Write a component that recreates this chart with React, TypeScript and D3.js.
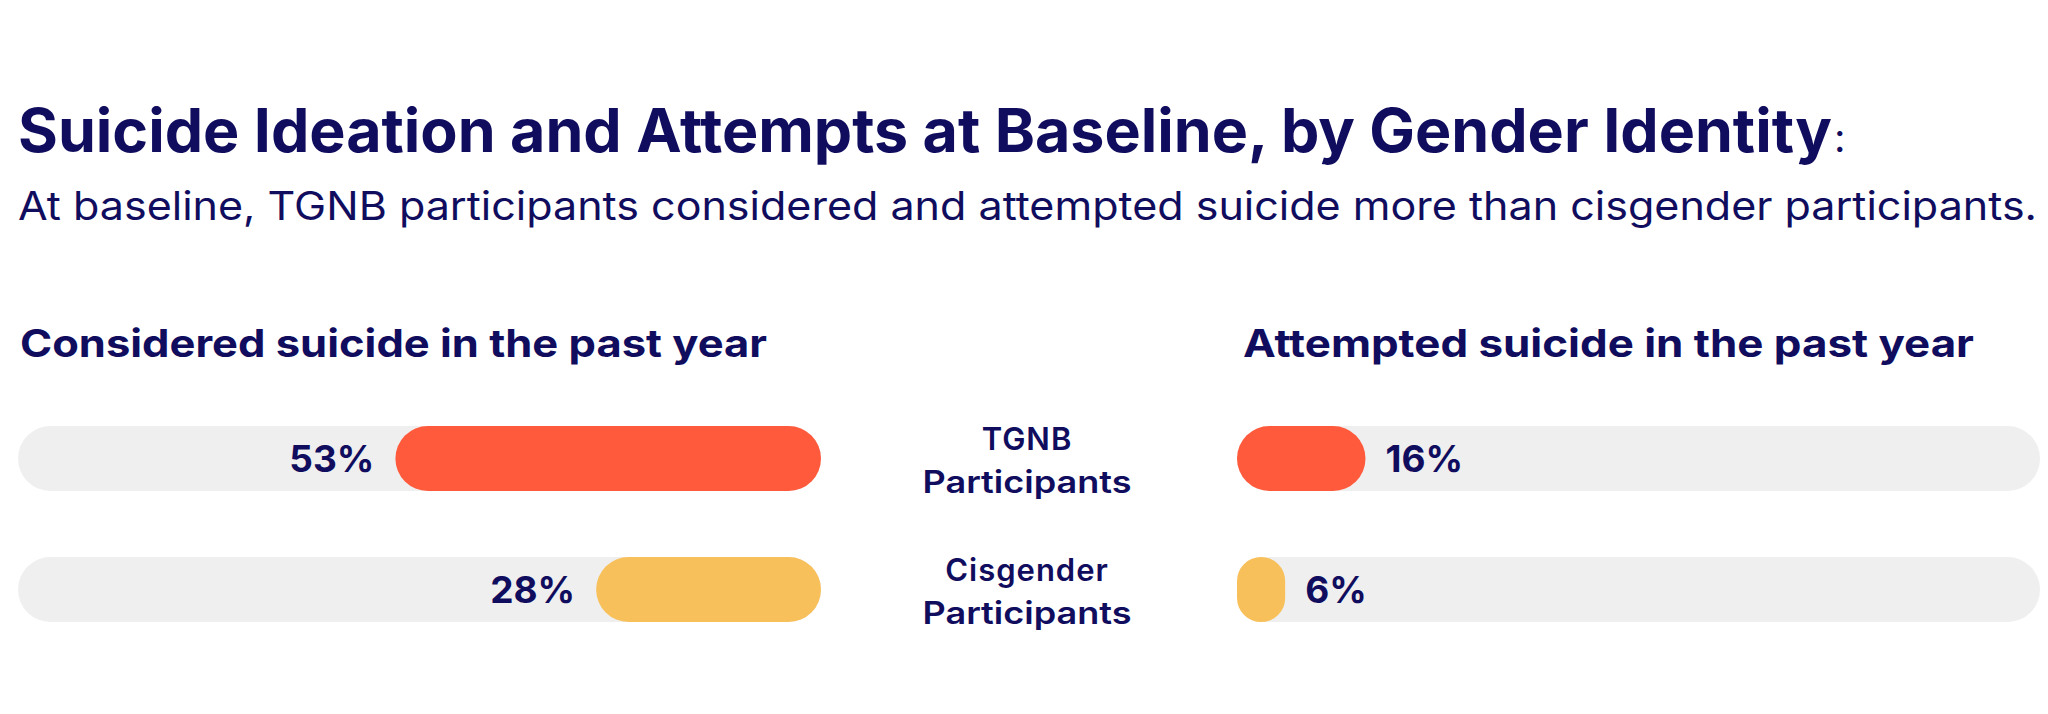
import * as d3 from 'd3';

const groups = ['TGNB', 'Cisgender'];
const considered = [53, 28];
const attempted = [16, 6];
const panelTitles = ['Considered suicide in the past year', 'Attempted suicide in the past year'];

const title = 'Suicide Ideation and Attempts at Baseline, by Gender Identity';
const subtitle = 'At baseline, TGNB participants considered and attempted suicide more than cisgender participants.';

const NAVY = '#110d5e';
const TRACK = '#efefef';
const barColors = ['#ff5a3c', '#f8c05a'];
const FONT = 'Inter, "Noto Sans", sans-serif';

const W = 2048;
const H = 714;

export default function App() {
  const trackW = 803;
  const leftX = 18;
  const rightX = 1237;

  // percentage -> bar length; the full track is 100%
  const x = d3.scaleLinear().domain([0, 100]).range([0, trackW]);

  // two rows, 65px tall, 131px apart
  const y = d3.scaleBand<string>()
    .domain(groups)
    .range([426, 622])
    .paddingInner(66 / 131)
    .paddingOuter(0);
  const band = y.bandwidth();

  const midX = 1027;

  return (
    <svg width={W} height={H} style={{ position: 'absolute', left: 0, top: 0, background: '#fff' }}
      fontFamily={FONT}>
      <text x={18} y={152} fontSize={60} fontWeight={700} fill={NAVY}
        textLength={1814} lengthAdjust="spacingAndGlyphs">{title}</text>
      <text x={1834} y={152} fontSize={40} fontWeight={400} fill={NAVY}>:</text>
      <text x={18} y={220} fontSize={39} fontWeight={400} fill={NAVY}
        textLength={2019} lengthAdjust="spacingAndGlyphs">{subtitle}</text>

      <text x={20} y={357} fontSize={38} fontWeight={700} fill={NAVY}
        textLength={747} lengthAdjust="spacingAndGlyphs">{panelTitles[0]}</text>
      <text x={1243} y={357} fontSize={38} fontWeight={700} fill={NAVY}
        textLength={731} lengthAdjust="spacingAndGlyphs">{panelTitles[1]}</text>

      {groups.map((g, i) => {
        const top = y(g)!;
        const cy = top + band / 2;
        const lw = x(considered[i]);
        const rw = x(attempted[i]);
        const r = band / 2;
        return (
          <g key={g}>
            {/* left panel: bars grow leftwards from the track's right end */}
            <rect x={leftX} y={top} width={trackW} height={band} rx={r} ry={r} fill={TRACK} />
            <rect x={leftX + trackW - lw} y={top} width={lw} height={band}
              rx={Math.min(r, lw / 2)} ry={Math.min(r, lw / 2)} fill={barColors[i]} />
            <text x={leftX + trackW - lw - 21} y={cy} dy="0.36em" textAnchor="end"
              fontSize={37} fontWeight={700} fill={NAVY}>{considered[i]}%</text>

            {/* right panel: bars grow rightwards */}
            <rect x={rightX} y={top} width={trackW} height={band} rx={r} ry={r} fill={TRACK} />
            <rect x={rightX} y={top} width={rw} height={band}
              rx={Math.min(r, rw / 2)} ry={Math.min(r, rw / 2)} fill={barColors[i]} />
            <text x={rightX + rw + 20} y={cy} dy="0.36em" textAnchor="start"
              fontSize={37} fontWeight={700} fill={NAVY}>{attempted[i]}%</text>

            {/* group label between the panels */}
            <text x={midX} y={cy - 9} textAnchor="middle" fontSize={31} fontWeight={600}
              letterSpacing={1} fill={NAVY}>{g}</text>
            <text x={midX} y={cy + 34} textAnchor="middle" fontSize={31} fontWeight={600}
              fill={NAVY} textLength={209} lengthAdjust="spacingAndGlyphs">Participants</text>
          </g>
        );
      })}
    </svg>
  );
}
